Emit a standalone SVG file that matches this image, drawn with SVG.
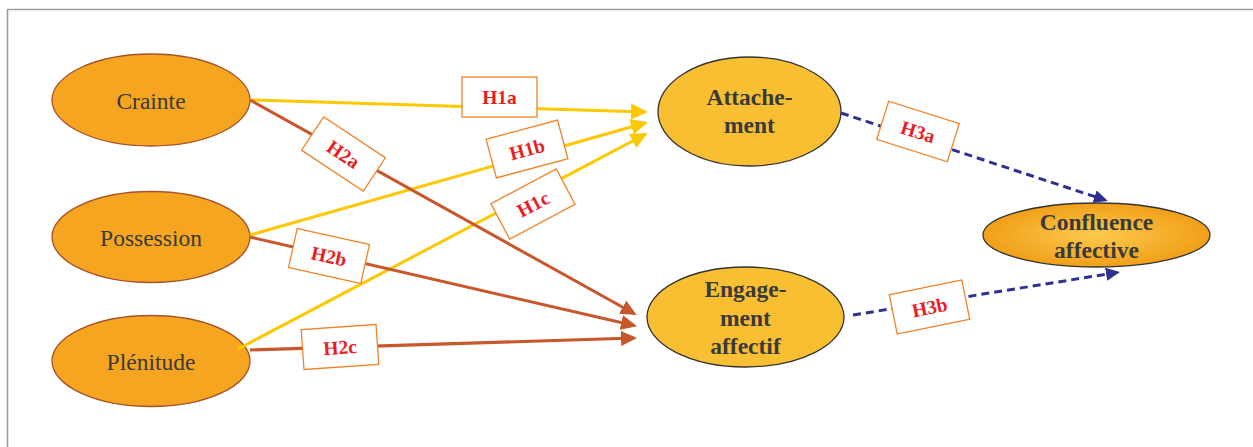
<svg xmlns="http://www.w3.org/2000/svg" width="1253" height="447" viewBox="0 0 1253 447">
  <style>
    .src ellipse { fill: #f5a51f; stroke: #a5532b; stroke-width: 1.3; }
    .src text { font-family: "Liberation Serif", "Times New Roman", serif; font-size: 23.5px; fill: #3a3a3a; text-anchor: middle; }
    .tgt ellipse { fill: #f9bf33; stroke: #333333; stroke-width: 1.3; }
    .tgt text, .out text { font-family: "Liberation Serif", "Times New Roman", serif; font-weight: bold; font-size: 23.5px; fill: #3a3a3a; text-anchor: middle; }
    .out ellipse { fill: url(#glow); stroke: #333333; stroke-width: 1.3; }
    .yellow { stroke: #fcc800; stroke-width: 3; fill: none; marker-end: url(#arrowYellow); }
    .brown { stroke: #c8572b; stroke-width: 3; fill: none; marker-end: url(#arrowBrown); }
    .blue { stroke: #2e3192; stroke-width: 3; fill: none; stroke-dasharray: 8 5; marker-end: url(#arrowBlue); }
    .tag rect { fill: #ffffff; stroke: #f08228; stroke-width: 1.3; }
    .tag text { font-family: "Liberation Serif", "Times New Roman", serif; font-weight: bold; font-size: 19.5px; fill: #ec1c24; text-anchor: middle; }
  </style>
  <defs>
    <radialGradient id="glow" cx="50%" cy="50%" r="50%">
      <stop offset="0" stop-color="#fcca4e"/>
      <stop offset="1" stop-color="#f19f18"/>
    </radialGradient>
    <marker id="arrowYellow" markerUnits="userSpaceOnUse" markerWidth="18" markerHeight="16" refX="14" refY="8" orient="auto">
      <path d="M0,0 L17,8 L0,16 z" fill="#fcc800"/>
    </marker>
    <marker id="arrowBrown" markerUnits="userSpaceOnUse" markerWidth="18" markerHeight="15" refX="13" refY="7.5" orient="auto">
      <path d="M0,0 L16,7.5 L0,15 z" fill="#c8572b"/>
    </marker>
    <marker id="arrowBlue" markerUnits="userSpaceOnUse" markerWidth="15" markerHeight="13" refX="11" refY="6.5" orient="auto">
      <path d="M0,0 L14,6.5 L0,13 z" fill="#2e3192"/>
    </marker>
  </defs>

  <rect width="1253" height="447" fill="#ffffff"/>
  <!-- frame -->
  <path d="M7.5,447 L7.5,9.5 L1253,9.5" fill="none" stroke="#a09999" stroke-width="1.6"/>

  <!-- source constructs -->
  <g id="crainte" class="src">
    <ellipse cx="151" cy="100" rx="99" ry="46"/>
    <text x="151" y="109">Crainte</text>
  </g>
  <g id="possession" class="src">
    <ellipse cx="151" cy="237" rx="99" ry="45.5"/>
    <text x="151" y="246">Possession</text>
  </g>
  <g id="plenitude" class="src">
    <ellipse cx="151" cy="361" rx="99" ry="45.5"/>
    <text x="151" y="370">Plénitude</text>
  </g>

  <!-- mediating constructs -->
  <g id="attachement" class="tgt">
    <ellipse cx="749.5" cy="111.5" rx="91.5" ry="54.5"/>
    <text x="749.5" y="105">Attache-</text>
    <text x="749.5" y="133">ment</text>
  </g>
  <g id="engagement" class="tgt">
    <ellipse cx="745.5" cy="317" rx="98.5" ry="50"/>
    <text x="745.5" y="297">Engage-</text>
    <text x="745.5" y="326">ment</text>
    <text x="745.5" y="354">affectif</text>
  </g>

  <!-- outcome -->
  <g id="confluence" class="out">
    <ellipse cx="1096.5" cy="235" rx="113.5" ry="32"/>
    <text x="1096.5" y="230">Confluence</text>
    <text x="1096.5" y="258">affective</text>
  </g>

  <!-- paths -->
  <g id="connectors">
    <line class="yellow" x1="250" y1="100" x2="645" y2="112"/>
    <line class="yellow" x1="250" y1="235" x2="645" y2="123"/>
    <line class="yellow" x1="238" y1="349" x2="645" y2="134.5"/>

    <line class="brown" x1="250" y1="100" x2="634" y2="313.5"/>
    <line class="brown" x1="250" y1="237" x2="634" y2="325.5"/>
    <line class="brown" x1="250" y1="350" x2="634" y2="338"/>

    <line class="blue" x1="841" y1="113" x2="1105" y2="200"/>
    <line class="blue" x1="853" y1="315" x2="1117" y2="272.5"/>
  </g>

  <!-- hypothesis tags -->
  <g id="tags">
    <g id="h1a" class="tag" transform="translate(499.5,97)">
      <rect x="-37.5" y="-20" width="75" height="40"/>
      <text y="7">H1a</text>
    </g>
    <g id="h1b" class="tag" transform="translate(527,149) rotate(-15)">
      <rect x="-37" y="-20" width="74" height="40"/>
      <text y="7">H1b</text>
    </g>
    <g id="h1c" class="tag" transform="translate(533,204) rotate(-28)">
      <rect x="-37" y="-20" width="74" height="40"/>
      <text y="7">H1c</text>
    </g>
    <g id="h2a" class="tag" transform="translate(343.5,154) rotate(33.5)">
      <rect x="-37" y="-20" width="74" height="40"/>
      <text y="7">H2a</text>
    </g>
    <g id="h2b" class="tag" transform="translate(329,256) rotate(12.5)">
      <rect x="-37" y="-20" width="74" height="40"/>
      <text y="7">H2b</text>
    </g>
    <g id="h2c" class="tag" transform="translate(340,347) rotate(-4)">
      <rect x="-37.5" y="-20" width="75" height="40"/>
      <text y="7">H2c</text>
    </g>
    <g id="h3a" class="tag" transform="translate(918,131.5) rotate(17.5)">
      <rect x="-37" y="-20" width="74" height="40"/>
      <text y="7">H3a</text>
    </g>
    <g id="h3b" class="tag" transform="translate(929.5,307) rotate(-11.5)">
      <rect x="-37" y="-20" width="74" height="40"/>
      <text y="7">H3b</text>
    </g>
  </g>
</svg>
